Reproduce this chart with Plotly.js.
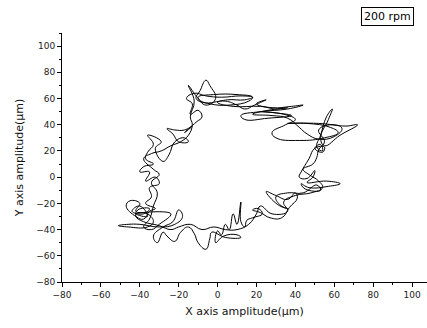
<!DOCTYPE html>
<html>
<head>
<meta charset="utf-8">
<script src="https://cdn.plot.ly/plotly-3.0.1.min.js"></script>
<style>html,body{margin:0;padding:0;background:#fff;}#chart{width:427px;height:328px;}</style>
</head>
<body>
<div id="chart"></div>
<script>
// Orbit trace (X, Y amplitude in micrometres)
const xAmp = [
 -14,-12,-15,-11,-6,-1,-4,-6,-9,-11,-4,6,16,18,10,-2,-10,-7,4,10,14,19,25,20,28,38,44,36,22,12,
 14,26,38,30,22,34,40,35,28,30,42,55,62,58,46,36,52,66,72,63,55,53,57,59,56,53,51,54,53,50,
 54,55,50,47,43,42,46,50,49,46,56,63,57,47,43,45,53,51,44,36,30,32,36,31,25,30,36,40,41,37,
 33,27,22,18,21,23,18,15,14,12,12,10,8,6,4,2,0,-1,3,10,12,4,-3,-4,-6,-10,-12,-15,-19,-22,
 -26,-28,-31,-33,-28,-23,-20,-18,-22,-30,-40,-46,-51,-46,-36,-33,-36,-42,-40,-45,-47,-42,-38,-35,-32,-37,-34,-35,-30,-32,
 -37,-35,-40,-38,-33,-37,-36,-33,-36,-29,-32,-28,-25,-22,-17,-15,-20,-23,-26,-22,-17,-13,-17,-11,-8,-10,-14,-13,
 -16,-12,-6,2,12,18,14,5,0,8,22,30,36,26,18,28,36,42,46,52,60,64,60,52,55,52,51,49,44,47,
 52,54,48,40,34,36,28,22,20,16,10,4,-2,-8,-14,-20,-24,-30,-38,-42,-41,-35,-38,-44,-40,-36,-42,-24,-30,-34,
 -38,-35,-33,-31,-34,-30,-33,-38,-34,-29,-24,-19,-15,-13,-14
];
const yAmp = [
 46,58,70,62,55,60,70,74,66,60,56,55,58,61,63,63,61,57,58,55,52,55,59,56,53,54,55,52,50,47,
 44,45,47,49,50,48,44,40,34,30,28,30,34,38,41,41,41,39,40,32,24,30,44,52,46,32,23,20,25,22,
 19,23,22,14,4,0,-1,5,0,-4,-3,-5,-7,-8,-5,-9,-10,-6,-12,-12,-15,-21,-24,-21,-11,-14,-17,-12,-16,-23,
 -31,-31,-27,-25,-24,-28,-31,-33,-38,-34,-19,-36,-28,-40,-36,-44,-41,-50,-45,-44,-46,-46,-42,-47,-55,-50,-43,-38,-42,-49,
 -45,-42,-50,-45,-38,-34,-25,-30,-36,-38,-36,-36,-37,-38,-38,-34,-28,-26,-20,-18,-22,-30,-32,-26,-24,-20,-15,-8,-5,0,
 -3,4,4,8,10,14,19,25,32,27,22,12,17,27,30,27,27,33,37,36,36,39,34,42,46,51,48,56,
 60,64,62,61,62,61,59,59,57,54,54,52,53,51,48,47,45,38,33,29,31,37,40,36,27,21,15,10,6,2,
 -3,-8,-12,-14,-19,-26,-28,-22,-28,-36,-40,-40,-38,-40,-36,-38,-40,-37,-34,-30,-25,-24,-28,-26,-22,-30,-28,-28,-36,-40,
 -38,-32,-22,-12,-4,2,6,14,18,20,24,27,32,40,46
];

const trace = {
  x: xAmp, y: yAmp, type: 'scatter', mode: 'lines',
  line: {color: '#000', width: 1, shape: 'spline', smoothing: 1.3},
  hoverinfo: 'skip', showlegend: false
};

const tickFont = {family: 'DejaVu Sans, Arial, sans-serif', size: 9, color: '#222'};
const titleFont = {family: 'DejaVu Sans, Arial, sans-serif', size: 11, color: '#111'};

const layout = {
  width: 427, height: 328,
  margin: {l: 62, r: 0, t: 33, b: 46, pad: 0},
  paper_bgcolor: '#fff', plot_bgcolor: '#fff',
  showlegend: false,
  xaxis: {
    range: [-80, 107.7], tickmode: 'linear', tick0: -80, dtick: 20,
    showline: true, linecolor: '#000', linewidth: 1, mirror: false,
    showgrid: false, zeroline: false,
    ticks: 'outside', ticklen: 4, tickwidth: 1, tickcolor: '#000',
    minor: {ticks: 'outside', ticklen: 2, tickwidth: 1, tickcolor: '#000', dtick: 10, showgrid: false},
    tickfont: tickFont,
    title: {text: 'X axis amplitude(\u03bcm)', font: titleFont, standoff: 8}
  },
  yaxis: {
    range: [-80, 110], tickmode: 'linear', tick0: -80, dtick: 20,
    showline: true, linecolor: '#000', linewidth: 1, mirror: false,
    showgrid: false, zeroline: false,
    ticks: 'outside', ticklen: 4, tickwidth: 1, tickcolor: '#000',
    minor: {ticks: 'outside', ticklen: 2, tickwidth: 1, tickcolor: '#000', dtick: 10, showgrid: false},
    tickfont: tickFont,
    title: {text: 'Y axis amplitude(\u03bcm)', font: titleFont, standoff: 10}
  },
  annotations: [{
    xref: 'paper', yref: 'paper', x: 0.892, y: 1.068,
    xanchor: 'center', yanchor: 'middle', showarrow: false,
    text: '200 rpm', font: {family: 'DejaVu Sans, Arial, sans-serif', size: 11, color: '#000'},
    bordercolor: '#000', borderwidth: 1, borderpad: 2, bgcolor: '#fff'
  }]
};

Plotly.newPlot('chart', [trace], layout, {staticPlot: true, displayModeBar: false});
</script>
</body>
</html>
